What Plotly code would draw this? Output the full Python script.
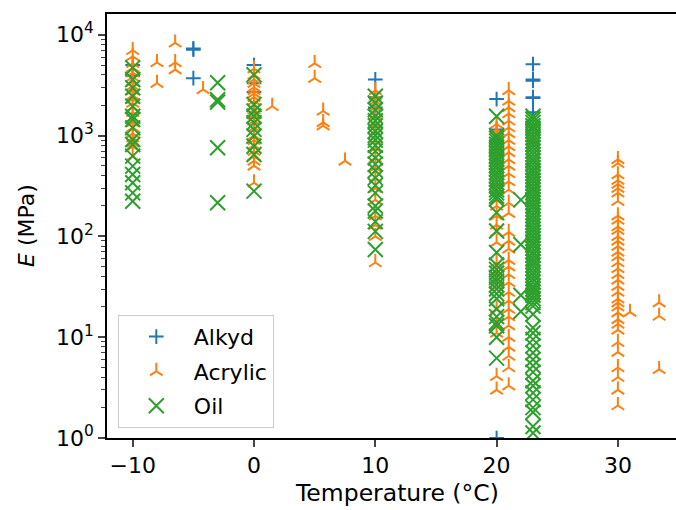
import plotly.graph_objects as go

# ---------------- data ----------------
alkyd_T = [-10, -10, -5, -5, -5, 0, 0, 0, 10, 10, 10, 20, 20, 20, 20, 23, 23, 23, 23, 23, 23]
alkyd_E = [5000, 3900, 7300, 7100, 3700, 5000, 3300, 2700, 3600, 2400, 1900, 2300, 1150, 880, 1.0,
           5100, 3600, 3500, 2400, 2350, 1700]

acr_m10 = [7000, 6100, 5200, 4700, 4200, 3800, 3400, 3100, 2800, 2500, 2300, 2100, 1900, 1700,
           1500, 1350, 1200, 1050, 950, 850, 780, 620]
acr_0 = [4600, 4000, 3600, 3300, 3000, 2800, 2600, 2400, 2200, 2000, 1800, 1600, 1400, 1200,
         1000, 900, 800, 700, 620, 560, 500, 340]
acr_10 = [2800, 2500, 2200, 1900, 1600, 1300, 1100, 900, 750, 600, 480, 380, 300, 230, 160, 130,
          100, 55]
acr_20 = [1300, 1150, 1000, 680, 580, 490, 340, 280, 230, 200, 160, 130, 110, 87, 55, 45, 38, 32,
          19, 13, 11, 4.1, 3.0]
acr_21 = [2800, 2200, 1900, 1650, 1400, 1200, 1050, 900, 780, 680, 580, 500, 420, 350, 290, 215,
          170, 110, 90, 75, 58, 50, 42, 35, 28, 23, 19, 16, 13, 10, 8, 6.5, 5, 3.3]
acr_23 = [880, 25]
acr_30 = [580, 530, 410, 360, 330, 300, 270, 223, 160, 145, 125, 115, 100, 90, 80, 70, 63, 55, 48,
          42, 37, 32, 28, 24, 22, 20, 17.5, 15, 13.5, 11.8, 8.9, 7.1, 5.0, 4.0, 3.0, 2.1]
acr_other_T = [-8, -8, -6.5, -6.5, -6.5, -4.2, 1.5, 5, 5, 5.7, 5.7, 5.7, 7.5, 31, 33.4, 33.4, 33.4]
acr_other_E = [5300, 3300, 8300, 5300, 4500, 2860, 1950, 5200, 3700, 1750, 1350, 1250, 560, 17.7,
               22, 16.2, 4.8]

oil_m10 = [4690, 3590, 2970, 2450, 1950, 1550, 1440, 1190, 912, 815, 624, 497, 411, 340, 270, 223]
oil_m3 = [3330, 2270, 2150, 755, 215]
oil_0 = [4000, 2030, 1750, 1550, 1340, 1150, 985, 783, 648, 281]
oil_10 = [2450, 2100, 1800, 1550, 1400, 1250, 1100, 1000, 900, 800, 700, 600, 520, 450, 380, 320,
          270, 200, 178, 140, 112, 74]
oil_20 = [1550, 1000, 940, 880, 820, 770, 720, 670, 620, 580, 540, 500, 465, 430, 400, 370, 340,
          315, 290, 270, 250, 235, 172, 113, 69, 52, 47, 43, 39, 36, 33, 30, 27, 24, 19, 16, 14,
          13, 10, 6.2]
oil_22 = [230, 83, 26, 18]
oil_23 = [1550, 1450, 1350, 1250, 1180, 1100, 1020, 950, 880, 820, 760, 700, 650, 600, 560, 520,
          480, 450, 420, 390, 360, 335, 310, 290, 270, 250, 232, 215, 200, 186, 172, 160, 148,
          137, 127, 118, 110, 102, 95, 88, 82, 76, 70, 65, 60, 56, 52, 48, 44, 41, 38, 35, 32, 30,
          28, 26, 24, 22, 20.3, 16.9, 12.4, 11.0, 9.5, 8.2, 7.0, 6.0, 5.2, 4.5, 3.7, 3.3, 2.8,
          2.4, 2.0, 1.8, 1.3, 1.12]

x_ticks = [-10, 0, 10, 20, 30]
y_ticks = [1, 10, 100, 1000, 10000]
y_ticktext = ["10<sup>0</sup>", "10<sup>1</sup>", "10<sup>2</sup>", "10<sup>3</sup>", "10<sup>4</sup>"]
y_minor = [m * 10 ** d for d in range(0, 5) for m in range(2, 10)]

# build series
acr_T = ([-10] * len(acr_m10) + [0] * len(acr_0) + [10] * len(acr_10) + [20] * len(acr_20)
         + [21] * len(acr_21) + [23] * len(acr_23) + [30] * len(acr_30) + acr_other_T)
acr_E = acr_m10 + acr_0 + acr_10 + acr_20 + acr_21 + acr_23 + acr_30 + acr_other_E
oil_T = ([-10] * len(oil_m10) + [-3] * len(oil_m3) + [0] * len(oil_0) + [10] * len(oil_10)
         + [20] * len(oil_20) + [22] * len(oil_22) + [23] * len(oil_23))
oil_E = oil_m10 + oil_m3 + oil_0 + oil_10 + oil_20 + oil_22 + oil_23

FONT = "DejaVu Sans"
C1, C2, C3 = "#1f77b4", "#ff7f0e", "#2ca02c"

fig = go.Figure()
fig.add_trace(go.Scatter(x=alkyd_T, y=alkyd_E, mode="markers", name="Alkyd", legendgroup="a",
                         marker=dict(symbol="cross-thin", size=10.5, color=C1,
                                     line=dict(width=2, color=C1))))
fig.add_trace(go.Scatter(x=acr_T, y=acr_E, mode="markers", name="Acrylic", legendgroup="b",
                         marker=dict(symbol="y-up", size=10.5, color=C2,
                                     line=dict(width=2, color=C2))))
fig.add_trace(go.Scatter(x=oil_T, y=oil_E, mode="markers", name="Oil", legendgroup="c",
                         marker=dict(symbol="x-thin", size=15, color=C3,
                                     line=dict(width=2, color=C3))))

fig.update_layout(
    width=676, height=510,
    margin=dict(l=107, r=0, t=14, b=72),
    paper_bgcolor="white", plot_bgcolor="white",
    font=dict(family=FONT, size=22, color="black"),
    showlegend=True,
    legend=dict(x=0.019, y=0.024, xanchor="left", yanchor="bottom",
                bgcolor="rgba(255,255,255,0.8)", bordercolor="#cccccc", borderwidth=1,
                font=dict(family=FONT, size=22), tracegroupgap=3, itemwidth=65),
    xaxis=dict(range=[-12.12, 34.79], tickvals=x_ticks, ticks="outside", ticklen=7, tickwidth=1.5,
               showgrid=False, zeroline=False, showline=True, linecolor="black", linewidth=1.5,
               mirror=True, tickfont=dict(size=22)),
    yaxis=dict(type="log", range=[0, 4.205], tickvals=y_ticks, ticktext=y_ticktext,
               ticks="outside", ticklen=7, tickwidth=1.5,
               minor=dict(tickvals=y_minor, ticks="outside", ticklen=4, tickwidth=1),
               showgrid=False, zeroline=False, showline=True, linecolor="black", linewidth=1.5,
               mirror=False, tickfont=dict(size=22)),
    annotations=[
        dict(text="Temperature (°C)", xref="paper", yref="paper", x=0.5097, y=0,
             xanchor="center", yanchor="middle", yshift=-55, showarrow=False,
             font=dict(size=23.5)),
        dict(text="<i>E</i> (MPa)", xref="paper", yref="paper", x=0, y=0.5,
             xanchor="center", yanchor="middle", xshift=-81, textangle=-90, showarrow=False,
             font=dict(size=22)),
    ],
)

fig.write_html("out.html")
